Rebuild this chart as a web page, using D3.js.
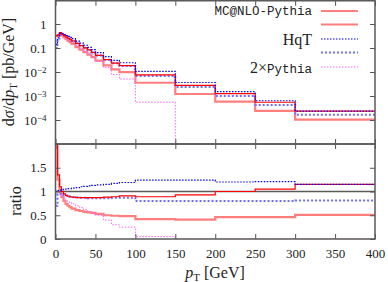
<!DOCTYPE html>
<html>
<head>
<meta charset="utf-8">
<script src="https://cdn.jsdelivr.net/npm/d3@7"></script>
<style>
  body { margin: 0; background: #fff; }
  svg { display: block; }
  .tick text { font-family: "Liberation Serif", serif; font-size: 13px; fill: #222; }
  .tick line { stroke: #555; stroke-width: 1; }
  .lbl { font-family: "Liberation Serif", serif; font-size: 16px; fill: #222; }
  .mono { font-family: "Liberation Mono", monospace; font-size: 12.5px; fill: #222; }
</style>
</head>
<body>
<svg id="chart"></svg>
<script>
// bin edges in pT [GeV]
const edges = [0, 2.5, 5, 7.5, 10, 12.5, 15, 17.5, 20, 25, 30, 35, 40, 45, 50, 60, 70, 80, 100, 150, 200, 250, 300, 400];

// dsigma/dpT [pb/GeV], one value per bin
const mcnlo = [0.32, 0.35, 0.44, 0.38, 0.33, 0.29, 0.26, 0.234, 0.2, 0.155, 0.126, 0.102, 0.083, 0.066, 0.049, 0.033, 0.0234, 0.0186, 0.0076, 0.00275, 0.00126, 0.00055, 0.000234];
const mcnloAlt = [0.32, 0.33, 0.4, 0.334, 0.277, 0.234, 0.202, 0.176, 0.147, 0.108, 0.085, 0.067, 0.053, 0.042, 0.0298, 0.019, 0.0129, 0.0098, 0.00357, 0.00121, 0.00058, 0.000242, 0.000104];
const hqt = [0.141, 0.268, 0.41, 0.395, 0.364, 0.332, 0.305, 0.279, 0.245, 0.192, 0.159, 0.13, 0.107, 0.0857, 0.0641, 0.0438, 0.0308, 0.0243, 0.01054, 0.00366, 0.00151, 0.000635, 0.000235];
const hqtAlt = [0.099, 0.25, 0.378, 0.353, 0.319, 0.288, 0.259, 0.234, 0.201, 0.156, 0.126, 0.102, 0.082, 0.0652, 0.0483, 0.0327, 0.0229, 0.0178, 0.0068, 0.00236, 0.00101, 0.00042, 0.000165];
const pythia2 = [0.141, 0.263, 0.378, 0.342, 0.298, 0.259, 0.228, 0.202, 0.169, 0.124, 0.0955, 0.0728, 0.0553, 0.0409, 0.0281, 0.0152, 0.0079, 0.0051, 0.00055, 0, 0, 0, 0];

// ratios (lower panel)
const mcnloRatio = [2.3, 1.35, 1.1, 1.0, 0.95, 0.92, 0.9, 0.89, 0.88, 0.87, 0.87, 0.87, 0.87, 0.87, 0.87, 0.88, 0.89, 0.91, 0.89, 0.93, 1.0, 1.05, 1.15];
const mcnloAltRatio = [2.3, 1.25, 1.0, 0.88, 0.8, 0.74, 0.7, 0.67, 0.64, 0.61, 0.59, 0.57, 0.56, 0.55, 0.53, 0.5, 0.49, 0.48, 0.42, 0.41, 0.46, 0.46, 0.51];
const hqtRatio = [1.0, 1.02, 1.03, 1.04, 1.05, 1.05, 1.06, 1.06, 1.07, 1.08, 1.1, 1.11, 1.12, 1.13, 1.14, 1.15, 1.17, 1.19, 1.24, 1.24, 1.2, 1.21, 1.15];
const hqtAltRatio = [0.7, 0.95, 0.95, 0.93, 0.92, 0.91, 0.9, 0.89, 0.88, 0.88, 0.87, 0.87, 0.86, 0.86, 0.86, 0.86, 0.87, 0.87, 0.8, 0.8, 0.8, 0.8, 0.81];
const pythia2Ratio = [1.0, 1.0, 0.95, 0.9, 0.86, 0.82, 0.79, 0.77, 0.74, 0.7, 0.66, 0.62, 0.58, 0.54, 0.5, 0.4, 0.3, 0.25, 0.05, 0, 0, 0, 0];

const xTicks = [0, 50, 100, 150, 200, 250, 300, 350, 400];
const topTicks = [1e-4, 1e-3, 1e-2, 0.1, 1];
const ratioTicks = [0, 0.5, 1, 1.5];

const width = 388;
const height = 282;

const series = [
  { top: mcnloAlt, ratio: mcnloAltRatio, color: "rgba(255,40,40,0.6)", w: 2.2, dash: null },
  { top: hqtAlt, ratio: hqtAltRatio, color: "#7070ff", w: 2, dash: "2,2" },
  { top: pythia2, ratio: pythia2Ratio, color: "#ff66ff", w: 1, dash: "1.5,1.5" },
  { top: mcnlo, ratio: mcnloRatio, color: "#ff0000", w: 1.2, dash: null },
  { top: hqt, ratio: hqtRatio, color: "#0000ff", w: 1.2, dash: "1.5,1.5" },
];

const svg = d3.select("#chart").attr("width", width).attr("height", height);

const x = d3.scaleLinear().domain([0, 400]).range([55.5, 375]);
const yTop = d3.scaleLog().domain([1e-5, 10]).range([144, 0]);
const yRat = d3.scaleLinear().domain([0, 2]).range([239, 144]);

const defs = svg.append("defs");
defs.append("clipPath").attr("id", "clipTop")
  .append("rect").attr("x", 55.5).attr("y", 0).attr("width", 319.5).attr("height", 144);
defs.append("clipPath").attr("id", "clipRat")
  .append("rect").attr("x", 55.5).attr("y", 144).attr("width", 319.5).attr("height", 95);

function stepPoints(vals) {
  const pts = vals.map((v, i) => [edges[i], v]);
  pts.push([edges[edges.length - 1], vals[vals.length - 1]]);
  return pts;
}

const lineTop = d3.line()
  .x((d) => x(d[0]))
  .y((d) => (d[1] > 0 ? yTop(d[1]) : 150))
  .curve(d3.curveStepAfter);

const lineRat = d3.line()
  .x((d) => x(d[0]))
  .y((d) => yRat(d[1]))
  .curve(d3.curveStepAfter);

// reference line at ratio 1
svg.append("line")
  .attr("x1", x(0)).attr("x2", x(400))
  .attr("y1", yRat(1)).attr("y2", yRat(1))
  .attr("stroke", "#5a5a5a").attr("stroke-width", 1.5);

const gTop = svg.append("g").attr("clip-path", "url(#clipTop)");
const gRat = svg.append("g").attr("clip-path", "url(#clipRat)");

series.forEach((s) => {
  gTop.append("path")
    .attr("d", lineTop(stepPoints(s.top)))
    .attr("fill", "none")
    .attr("stroke", s.color)
    .attr("stroke-width", s.w)
    .attr("stroke-dasharray", s.dash);
  gRat.append("path")
    .attr("d", lineRat(stepPoints(s.ratio)))
    .attr("fill", "none")
    .attr("stroke", s.color)
    .attr("stroke-width", s.w)
    .attr("stroke-dasharray", s.dash);
});

// axes
const noDomain = (g) => g.select(".domain").remove();

svg.append("g").attr("transform", "translate(0,144)")
  .call(d3.axisBottom(x).tickValues(xTicks).tickSize(-5).tickFormat(""))
  .call(noDomain);
svg.append("g").attr("transform", "translate(0,0.75)")
  .call(d3.axisTop(x).tickValues(xTicks).tickSize(-5).tickFormat(""))
  .call(noDomain);
svg.append("g").attr("transform", "translate(0,144)")
  .call(d3.axisTop(x).tickValues(xTicks).tickSize(-5).tickFormat(""))
  .call(noDomain);
svg.append("g").attr("transform", "translate(0,239)")
  .call(d3.axisBottom(x).tickValues(xTicks).tickSize(-5).tickPadding(10).tickFormat(d3.format("d")))
  .call(noDomain);

const yTopAxis = svg.append("g").attr("transform", "translate(55.5,0)")
  .call(d3.axisLeft(yTop).tickValues(topTicks).tickSize(-5).tickPadding(9).tickFormat(""))
  .call(noDomain);
yTopAxis.selectAll(".tick text").each(function (d) {
  const t = d3.select(this);
  if (d >= 0.1) {
    t.text(d === 1 ? "1" : "0.1");
  } else {
    t.text("10");
    t.append("tspan").attr("dy", "-0.45em").attr("font-size", "9px")
      .text("\u2212" + Math.round(-Math.log10(d)));
  }
});
svg.append("g").attr("transform", "translate(375,0)")
  .call(d3.axisRight(yTop).tickValues(topTicks).tickSize(-5).tickFormat(""))
  .call(noDomain);

svg.append("g").attr("transform", "translate(55.5,0)")
  .call(d3.axisLeft(yRat).tickValues(ratioTicks).tickSize(-5).tickPadding(9).tickFormat((d) => String(d)))
  .call(noDomain);
svg.append("g").attr("transform", "translate(375,0)")
  .call(d3.axisRight(yRat).tickValues(ratioTicks).tickSize(-5).tickFormat(""))
  .call(noDomain);

// frames
svg.append("rect").attr("x", 55.5).attr("y", 0.75).attr("width", 319.5).attr("height", 143.25)
  .attr("fill", "none").attr("stroke", "#5a5a5a").attr("stroke-width", 1.5);
svg.append("rect").attr("x", 55.5).attr("y", 144).attr("width", 319.5).attr("height", 95)
  .attr("fill", "none").attr("stroke", "#5a5a5a").attr("stroke-width", 1.5);

// axis titles
const yTitle = svg.append("text").attr("class", "lbl")
  .attr("text-anchor", "middle")
  .attr("transform", "translate(14,72) rotate(-90)");
yTitle.append("tspan").text("d");
yTitle.append("tspan").attr("font-style", "italic").text("\u03c3");
yTitle.append("tspan").text("/d");
yTitle.append("tspan").attr("font-style", "italic").text("p");
yTitle.append("tspan").attr("font-size", "11px").attr("dy", "0.25em").text("T");
yTitle.append("tspan").attr("dy", "-0.2em").text(" [pb/GeV]");

svg.append("text").attr("class", "lbl")
  .attr("text-anchor", "middle")
  .attr("transform", "translate(21,201) rotate(-90)")
  .text("ratio");

const xTitle = svg.append("text").attr("class", "lbl")
  .attr("text-anchor", "middle")
  .attr("x", 215).attr("y", 278);
xTitle.append("tspan").attr("font-style", "italic").text("p");
xTitle.append("tspan").attr("font-size", "11px").attr("dy", "0.25em").text("T");
xTitle.append("tspan").attr("dy", "-0.2em").text(" [GeV]");

// legend
const legend = [
  { label: "MC@NLO-Pythia", s: series[3], y: 11 },
  { label: "", s: series[0], y: 24.5 },
  { label: "HqT", s: series[4], y: 39 },
  { label: "", s: series[1], y: 52.5 },
  { label: "2\u00d7Pythia", s: series[2], y: 67 },
];
legend.forEach((l) => {
  svg.append("line")
    .attr("x1", 321).attr("x2", 358)
    .attr("y1", l.y).attr("y2", l.y)
    .attr("stroke", l.s.color)
    .attr("stroke-width", l.s.w)
    .attr("stroke-dasharray", l.s.dash);
});
svg.append("text").attr("class", "mono").attr("text-anchor", "end")
  .attr("x", 312).attr("y", 11).attr("dy", "0.35em").text("MC@NLO-Pythia");
svg.append("text").attr("class", "lbl").attr("text-anchor", "end")
  .attr("x", 312).attr("y", 39).attr("dy", "0.35em").text("HqT");
const pyLabel = svg.append("text").attr("text-anchor", "end")
  .attr("x", 312).attr("y", 67).attr("dy", "0.35em");
pyLabel.append("tspan").attr("class", "lbl").text("2\u00d7");
pyLabel.append("tspan").attr("class", "mono").text("Pythia");
</script>
</body>
</html>
